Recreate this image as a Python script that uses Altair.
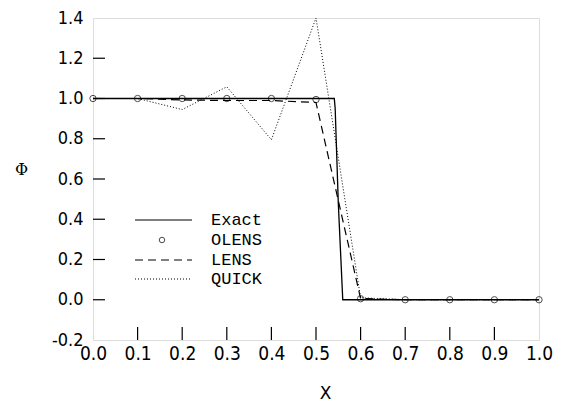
import altair as alt
import pandas as pd

# Data
x_nodes = [0.0, 0.1, 0.2, 0.3, 0.4, 0.5, 0.6, 0.7, 0.8, 0.9, 1.0]
olens = [1.0, 1.0, 1.0, 1.0, 1.0, 0.995, 0.005, 0.0, 0.0, 0.0, 0.0]
lens = [1.0, 1.0, 0.993, 0.99, 0.99, 0.98, 0.006, 0.0, 0.0, 0.0, 0.0]
quick = [1.0, 1.0, 0.945, 1.058, 0.795, 1.40, 0.01, 0.0, 0.0, 0.0, 0.0]
exact_x = [0.0, 0.541, 0.543, 0.55, 0.56, 1.0]
exact_y = [1.0, 1.0, 0.95, 0.48, 0.0, 0.0]

x_ticks = [0.1, 0.2, 0.3, 0.4, 0.5, 0.6, 0.7, 0.8, 0.9]
y_ticks = [0.0, 0.2, 0.4, 0.6, 0.8, 1.0, 1.2]
x_labels = [0.0, 0.1, 0.2, 0.3, 0.4, 0.5, 0.6, 0.7, 0.8, 0.9, 1.0]
y_labels = [-0.2, 0.0, 0.2, 0.4, 0.6, 0.8, 1.0, 1.2, 1.4]
legend_names = ["Exact", "OLENS", "LENS", "QUICK"]

W, H = 446, 322
MONO = "Liberation Mono"
NARROW = "Liberation Sans Narrow, DejaVu Sans Condensed, Liberation Mono"

xs = alt.Scale(domain=[0, 1], nice=False, zero=False)
ys = alt.Scale(domain=[-0.2, 1.4], nice=False, zero=False)

xaxis = alt.Axis(values=x_labels, format=".1f", ticks=False, grid=False, domain=False,
                 labelFont=NARROW, labelFontSize=19, labelColor="black", labelPadding=4,
                 labelBaseline="top", labelFlush=False,
                 title="X", titleFont="DejaVu Sans", titleFontSize=17, titleFontWeight="normal",
                 titleColor="black", titleX=232, titleY=53, titleBaseline="middle")
yaxis = alt.Axis(values=y_labels, format=".1f", ticks=False, grid=False, domain=False,
                 labelFont=NARROW, labelFontSize=18, labelColor="black", labelPadding=10,
                 labelFlush=False,
                 labelExpr="replace(datum.label, '\u2212', '-')",
                 title="\u03a6", titleFont="DejaVu Serif", titleFontSize=16,
                 titleFontWeight="normal", titleColor="black", titleAngle=0,
                 titleX=-72, titleY=151, titleAlign="center", titleBaseline="middle")

df_nodes = pd.DataFrame({"x": x_nodes, "olens": olens, "lens": lens, "quick": quick})
df_exact = pd.DataFrame({"x": exact_x, "y": exact_y})

base_axes = alt.Chart(df_nodes).mark_point(opacity=0).encode(
    x=alt.X("x:Q", scale=xs, axis=xaxis),
    y=alt.Y("olens:Q", scale=ys, axis=yaxis),
)

exact = alt.Chart(df_exact).mark_line(color="black", strokeWidth=1.3).encode(
    x=alt.X("x:Q", scale=xs), y=alt.Y("y:Q", scale=ys))
lens_l = alt.Chart(df_nodes).mark_line(color="black", strokeWidth=1.2, strokeDash=[8, 5]).encode(
    x=alt.X("x:Q", scale=xs), y=alt.Y("lens:Q", scale=ys))
quick_l = alt.Chart(df_nodes).mark_line(color="black", strokeWidth=1, strokeDash=[1, 2]).encode(
    x=alt.X("x:Q", scale=xs), y=alt.Y("quick:Q", scale=ys))
olens_p = alt.Chart(df_nodes).mark_point(shape="circle", filled=False, color="black",
                                          size=40, strokeWidth=1).encode(
    x=alt.X("x:Q", scale=xs), y=alt.Y("olens:Q", scale=ys))

xt = alt.Chart(pd.DataFrame({"t": x_ticks})).mark_rule(color="black", strokeWidth=1.2).encode(
    x=alt.X("t:Q", scale=xs), y=alt.value(H), y2=alt.value(H - 13))
yt = alt.Chart(pd.DataFrame({"t": y_ticks})).mark_rule(color="black", strokeWidth=1.2).encode(
    y=alt.Y("t:Q", scale=ys), x=alt.value(0), x2=alt.value(12))

# Legend
leg_layers = []
row_y = [202, 222, 242, 261]
styles = [
    dict(kind="line", dash=None),
    dict(kind="point"),
    dict(kind="line", dash=[8, 5]),
    dict(kind="line", dash=[1, 2]),
]
for i, name in enumerate(legend_names):
    ldf = pd.DataFrame({"name": [name]})
    st = styles[i]
    if st["kind"] == "line":
        kw = dict(color="black", strokeWidth=1.1)
        if st["dash"]:
            kw["strokeDash"] = st["dash"]
        leg_layers.append(alt.Chart(ldf).mark_rule(**kw).encode(
            x=alt.value(42), x2=alt.value(99), y=alt.value(row_y[i])))
    else:
        leg_layers.append(alt.Chart(ldf).mark_point(shape="circle", filled=False, color="black",
                                                    size=30, strokeWidth=1).encode(
            x=alt.value(69), y=alt.value(row_y[i])))
    leg_layers.append(alt.Chart(ldf).mark_text(font=MONO, fontSize=17, align="left",
                                               baseline="middle", color="black").encode(
        text="name:N", x=alt.value(118), y=alt.value(row_y[i])))

chart = alt.layer(base_axes, exact, lens_l, quick_l, olens_p, xt, yt, *leg_layers).properties(
    width=W, height=H,
    autosize=alt.AutoSizeParams(type="none"),
    padding={"left": 85, "top": 10, "right": 22, "bottom": 66},
).configure_view(stroke="black", strokeWidth=1.5).configure(background="white")

chart.save("out.html", embed_options={"renderer": "svg", "actions": False})
